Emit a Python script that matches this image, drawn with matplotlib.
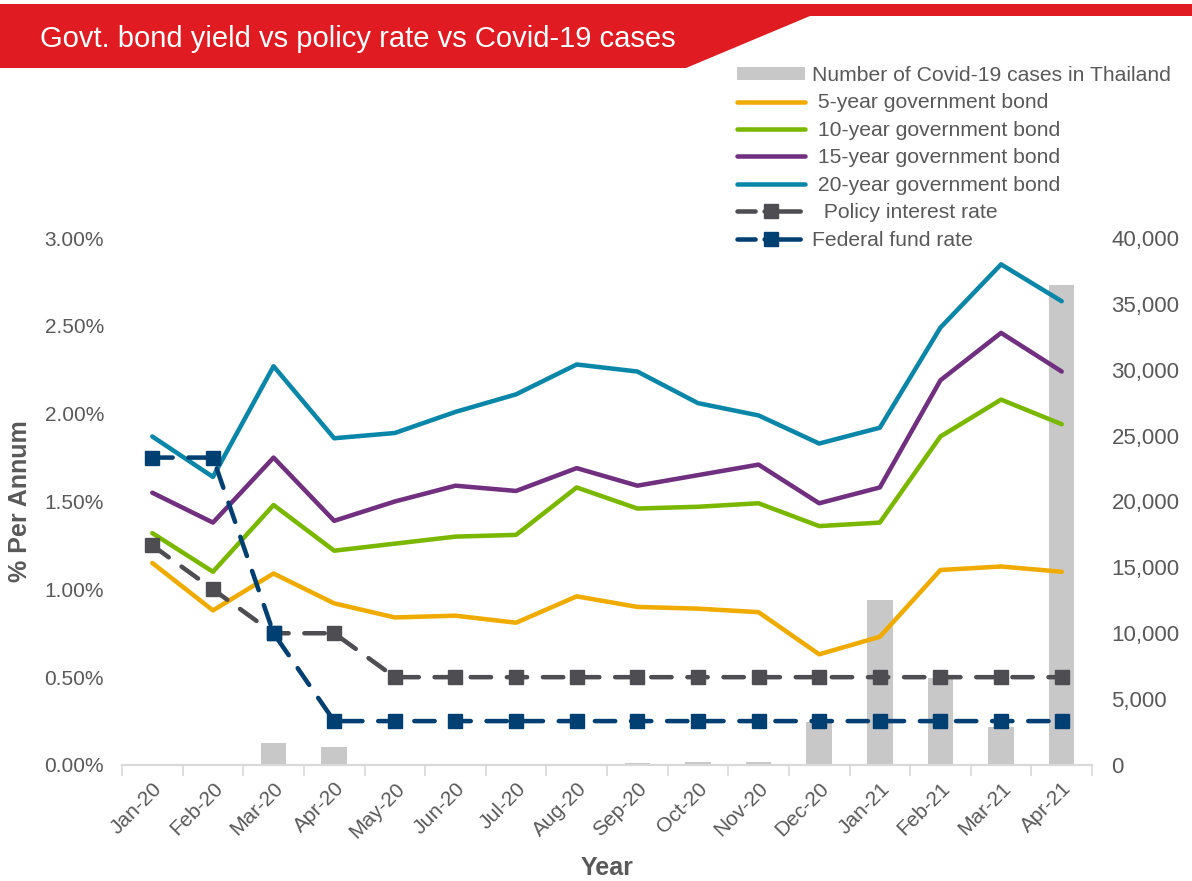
import matplotlib
matplotlib.use('Agg')
import matplotlib.pyplot as plt
from matplotlib.patches import Polygon, Patch
from matplotlib.lines import Line2D
from matplotlib.ticker import FuncFormatter

plt.rcParams['font.family'] = ['Liberation Sans', 'DejaVu Sans']

# Dati
months = ['Jan-20', 'Feb-20', 'Mar-20', 'Apr-20', 'May-20', 'Jun-20', 'Jul-20', 'Aug-20',
          'Sep-20', 'Oct-20', 'Nov-20', 'Dec-20', 'Jan-21', 'Feb-21', 'Mar-21', 'Apr-21']

covid_cases = [20, 30, 1670, 1370, 100, 50, 100, 80, 150, 200, 200, 3260, 12520, 6600, 2880, 36400]

bond_5y = [1.15, 0.88, 1.09, 0.92, 0.84, 0.85, 0.81, 0.96, 0.90, 0.89, 0.87, 0.63, 0.73, 1.11, 1.13, 1.10]
bond_10y = [1.32, 1.10, 1.48, 1.22, 1.26, 1.30, 1.31, 1.58, 1.46, 1.47, 1.49, 1.36, 1.38, 1.87, 2.08, 1.94]
bond_15y = [1.55, 1.38, 1.75, 1.39, 1.50, 1.59, 1.56, 1.69, 1.59, 1.65, 1.71, 1.49, 1.58, 2.19, 2.46, 2.24]
bond_20y = [1.87, 1.64, 2.27, 1.86, 1.89, 2.01, 2.11, 2.28, 2.24, 2.06, 1.99, 1.83, 1.92, 2.49, 2.85, 2.64]

policy_rate = [1.25, 1.00, 0.75, 0.75, 0.50, 0.50, 0.50, 0.50, 0.50, 0.50, 0.50, 0.50, 0.50, 0.50, 0.50, 0.50]
fed_rate = [1.75, 1.75, 0.75, 0.25, 0.25, 0.25, 0.25, 0.25, 0.25, 0.25, 0.25, 0.25, 0.25, 0.25, 0.25, 0.25]

# Colori
RED = '#E01B22'
GREY_TXT = '#595959'
BAR_C = '#C8C8C8'
C5 = '#F0AB00'
C10 = '#7AB800'
C15 = '#702F7F'
C20 = '#0A87A8'
CPOL = '#4D4D52'
CFED = '#003F72'

fig = plt.figure(figsize=(11.92, 8.81), dpi=100)

# Banner del titolo
W, H = 1192, 881
def fx(px): return px / W
def fy(py): return 1 - py / H

banner = Polygon([(fx(0), fy(4)), (fx(1192), fy(4)), (fx(1192), fy(16)), (fx(810), fy(16)),
                  (fx(686), fy(68)), (fx(0), fy(68))],
                 closed=True, transform=fig.transFigure, facecolor=RED, edgecolor='none')
fig.patches.append(banner)
fig.text(fx(40), fy(39), 'Govt. bond yield vs policy rate vs Covid-19 cases', color='white',
         fontsize=21, va='center', ha='left')

ax = fig.add_axes([fx(122), fy(765), fx(1092) - fx(122), fy(238) - fy(765)])
ax2 = ax.twinx()

x = list(range(len(months)))

# Barre dei casi Covid (asse destro)
ax2.bar(x, covid_cases, width=0.42, color=BAR_C, zorder=1)
ax2.set_ylim(0, 40000)
ax2.set_yticks(range(0, 40001, 5000))
ax2.yaxis.set_major_formatter(FuncFormatter(lambda v, p: f'{int(v):,}'))

# Linee dei rendimenti (asse sinistro)
lw = 3.25
dash = (0, (4.5, 3.5))
ax.plot(x, bond_5y, color=C5, lw=lw, solid_capstyle='round', zorder=3)
ax.plot(x, bond_10y, color=C10, lw=lw, solid_capstyle='round', zorder=3)
ax.plot(x, bond_15y, color=C15, lw=lw, solid_capstyle='round', zorder=3)
ax.plot(x, bond_20y, color=C20, lw=lw, solid_capstyle='round', zorder=3)
ax.plot(x, policy_rate, color=CPOL, lw=lw, ls=dash, dash_capstyle='round',
        marker='s', markersize=10, zorder=4)
ax.plot(x, fed_rate, color=CFED, lw=lw, ls=dash, dash_capstyle='round',
        marker='s', markersize=10, zorder=5)

ax.set_zorder(ax2.get_zorder() + 1)
ax.patch.set_visible(False)

ax.set_xlim(-0.5, len(months) - 0.5)
ax.set_ylim(0, 3.0)
ax.set_yticks([0, 0.5, 1.0, 1.5, 2.0, 2.5, 3.0])
ax.yaxis.set_major_formatter(FuncFormatter(lambda v, p: f'{v:.2f}%'))

ax.set_xticks(x)
ax.set_xticklabels(months, rotation=45, ha='right', rotation_mode='anchor')
ax.set_xticks([i - 0.5 for i in range(len(months) + 1)], minor=True)

for a in (ax, ax2):
    for s in ('top', 'left', 'right'):
        a.spines[s].set_visible(False)
    a.spines['bottom'].set_color('#D9D9D9')
    a.spines['bottom'].set_linewidth(1.5)

ax.tick_params(axis='x', which='major', length=0, labelsize=15, colors=GREY_TXT, pad=10)
ax.tick_params(axis='x', which='minor', length=8, width=1.2, color='#D9D9D9')
ax.tick_params(axis='y', length=0, labelsize=15, colors=GREY_TXT, pad=13)
ax2.tick_params(axis='y', length=0, labelsize=16, colors=GREY_TXT, pad=14)

ax.set_ylabel('% Per Annum', fontsize=18, fontweight='bold', color=GREY_TXT, labelpad=9)
ax.set_xlabel('Year', fontsize=18, fontweight='bold', color=GREY_TXT, labelpad=10)

# Legenda
leg_dash = (0, (4.0, 2.0, 8.0, 20))
handles = [
    Patch(facecolor=BAR_C, edgecolor='none'),
    Line2D([], [], color=C5, lw=lw, solid_capstyle='round'),
    Line2D([], [], color=C10, lw=lw, solid_capstyle='round'),
    Line2D([], [], color=C15, lw=lw, solid_capstyle='round'),
    Line2D([], [], color=C20, lw=lw, solid_capstyle='round'),
    Line2D([], [], color=CPOL, lw=lw, ls=leg_dash, dash_capstyle='round', marker='s', markersize=10),
    Line2D([], [], color=CFED, lw=lw, ls=leg_dash, dash_capstyle='round', marker='s', markersize=10),
]
labels = ['Number of Covid-19 cases in Thailand', ' 5-year government bond', ' 10-year government bond',
          ' 15-year government bond', ' 20-year government bond', '  Policy interest rate', 'Federal fund rate']
leg = fig.legend(handles, labels, loc='upper left', bbox_to_anchor=(fx(737), fy(66)),
                 frameon=False, fontsize=15.2, handlelength=3.2, handleheight=0.55,
                 labelspacing=0.4, handletextpad=0.35, borderaxespad=0, borderpad=0)
for t in leg.get_texts():
    t.set_color(GREY_TXT)

fig.savefig('out.png', dpi=100)
